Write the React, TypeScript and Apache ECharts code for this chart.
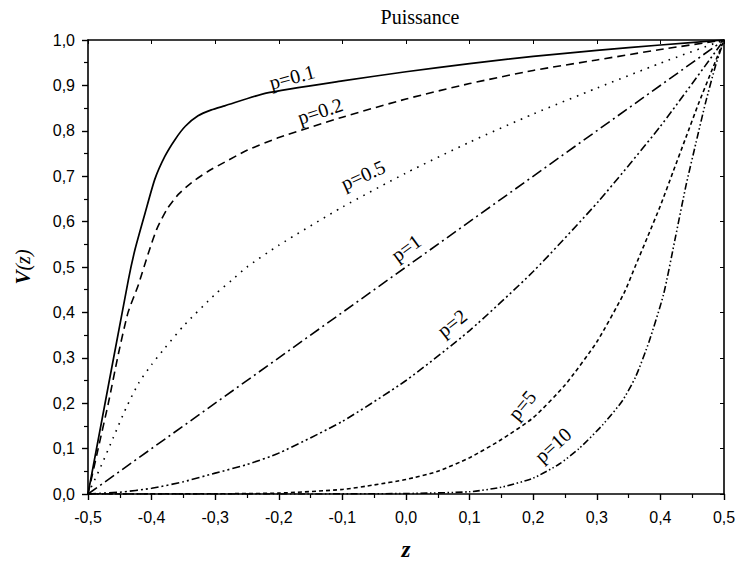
import React, { useEffect, useRef } from "react";
import * as echarts from "echarts";

type Pt = [number, number];

const seriesNames = ["p=0.1", "p=0.2", "p=0.5", "p=1", "p=2", "p=5", "p=10"];

const p01: Pt[] = [
  [-0.5, 0], [-0.4366, 0.471], [-0.426, 0.539], [-0.41, 0.62], [-0.395, 0.693],
  [-0.379, 0.744], [-0.363, 0.781], [-0.347, 0.81], [-0.327, 0.833], [-0.306, 0.846],
  [-0.285, 0.855], [-0.22, 0.883], [-0.1, 0.91], [0, 0.93], [0.1, 0.948],
  [0.2, 0.964], [0.3, 0.977], [0.4, 0.989], [0.5, 1],
];
const p02: Pt[] = [
  [-0.5, 0], [-0.484, 0.1], [-0.468, 0.2], [-0.452, 0.31], [-0.437, 0.4],
  [-0.421, 0.46], [-0.405, 0.531], [-0.392, 0.583], [-0.376, 0.627], [-0.358, 0.66],
  [-0.337, 0.686], [-0.311, 0.711], [-0.285, 0.731], [-0.25, 0.757], [-0.2, 0.785],
  [-0.1, 0.83], [0, 0.87], [0.1, 0.904], [0.2, 0.933], [0.3, 0.956], [0.4, 0.979], [0.5, 1],
];
const p05: Pt[] = [
  [-0.5, 0], [-0.48, 0.06], [-0.46, 0.125], [-0.44, 0.19], [-0.42, 0.245],
  [-0.4, 0.285], [-0.38, 0.32], [-0.35, 0.37], [-0.3, 0.44], [-0.274, 0.471],
  [-0.25, 0.5], [-0.2, 0.548], [-0.1, 0.632], [0, 0.707], [0.1, 0.775],
  [0.2, 0.837], [0.3, 0.894], [0.4, 0.949], [0.5, 1],
];
const p1: Pt[] = [[-0.5, 0], [0, 0.5], [0.5, 1]];
const p2: Pt[] = [
  [-0.5, 0], [-0.45, 0.004], [-0.4, 0.0125], [-0.35, 0.027], [-0.3, 0.046],
  [-0.25, 0.065], [-0.2, 0.09], [-0.1, 0.16], [0, 0.25], [0.1, 0.36],
  [0.2, 0.49], [0.3035, 0.646], [0.4, 0.81], [0.5, 1],
];
const p5: Pt[] = [
  [-0.5, 0], [-0.3, 0.0005], [-0.2, 0.002], [-0.1, 0.01], [-0.05, 0.02],
  [0, 0.032], [0.05, 0.05], [0.1, 0.08], [0.15, 0.12], [0.2, 0.168],
  [0.25, 0.24], [0.3, 0.335], [0.343, 0.443], [0.36, 0.5], [0.38, 0.567],
  [0.4, 0.635], [0.42, 0.71], [0.44, 0.785], [0.46, 0.86], [0.48, 0.93], [0.5, 1],
];
const p10: Pt[] = [
  [-0.5, 0], [-0.2, 0], [0, 0.001], [0.1, 0.005], [0.15, 0.015], [0.2, 0.035],
  [0.241, 0.066], [0.272, 0.1], [0.309, 0.152], [0.34, 0.205], [0.361, 0.258],
  [0.382, 0.335], [0.405, 0.44], [0.424, 0.568], [0.44, 0.678], [0.456, 0.774],
  [0.471, 0.862], [0.487, 0.945], [0.5, 1],
];

const allData = [p01, p02, p05, p1, p2, p5, p10];
const dashes: (string | number[])[] = [
  "solid",
  [8, 5],
  [1.6, 6],
  [11, 4, 2, 4],
  [8, 3, 2, 3, 2, 3],
  [4, 3],
  [7, 2.5, 1.5, 2.5, 1.5, 2.5],
];

const xTitle = "z";
const chartTitle = "Puissance";

// label positions (pixel centres) and rotation in degrees
const labelPos: [number, number, number][] = [
  [292, 77, 15],
  [320, 111, 18],
  [363, 175, 24],
  [406, 248, 36],
  [452, 323, 38],
  [522, 405, 50],
  [553, 445, 42],
];

const fmt = (v: number) => (Math.abs(v) < 1e-9 ? 0 : v).toFixed(1).replace(".", ",");

export default function App() {
  const ref = useRef<HTMLDivElement>(null);
  useEffect(() => {
    document.body.style.margin = "0";
    const chart = echarts.init(ref.current!, null, { renderer: "svg" });
    const serif = "'Liberation Serif', 'DejaVu Serif', serif";
    const sans = "'Liberation Sans', Arial, sans-serif";
    const axisLine = { show: true, onZero: false, lineStyle: { color: "#000", width: 1.6 } };
    chart.setOption({
      animation: false,
      backgroundColor: "#fff",
      grid: { left: 88, right: 13, top: 40, bottom: 71, containLabel: false, outerBoundsMode: "none" },
      xAxis: [
        {
          type: "value",
          min: -0.5,
          max: 0.5,
          interval: 0.1,
          position: "bottom",
          name: xTitle,
          nameLocation: "middle",
          nameGap: 44,
          nameTextStyle: { fontFamily: serif, fontSize: 23, fontWeight: "bold", fontStyle: "italic", color: "#000" },
          axisLine,
          axisTick: { show: true, inside: false, length: 6, lineStyle: { color: "#000", width: 1.4 } },
          minorTick: { show: true, splitNumber: 2, length: 4, lineStyle: { color: "#000", width: 1.2 } },
          splitLine: { show: false },
          axisLabel: { formatter: fmt, fontFamily: sans, fontSize: 16, color: "#000", margin: 15 },
        },
        {
          type: "value",
          min: -0.5,
          max: 0.5,
          interval: 0.1,
          position: "top",
          axisLine,
          axisTick: { show: true, inside: true, length: 4, lineStyle: { color: "#000", width: 1 } },
          splitLine: { show: false },
          axisLabel: { show: false },
        },
      ],
      yAxis: [
        {
          type: "value",
          min: 0,
          max: 1,
          interval: 0.1,
          position: "left",
          name: "{v|V}{z|(z)}",
          nameLocation: "middle",
          nameGap: 55,
          nameRotate: 90,
          nameTextStyle: {
            color: "#000",
            rich: {
              v: { fontFamily: serif, fontSize: 21, fontWeight: "bold", fontStyle: "italic", color: "#000" },
              z: { fontFamily: serif, fontSize: 20, fontStyle: "italic", color: "#000" },
            },
          },
          axisLine,
          axisTick: { show: true, inside: false, length: 6, lineStyle: { color: "#000", width: 1.4 } },
          minorTick: { show: true, splitNumber: 2, length: 4, lineStyle: { color: "#000", width: 1.2 } },
          splitLine: { show: false },
          axisLabel: { formatter: fmt, fontFamily: sans, fontSize: 16, color: "#000", margin: 13 },
        },
        {
          type: "value",
          min: 0,
          max: 1,
          interval: 0.1,
          position: "right",
          axisLine,
          axisTick: { show: true, inside: true, length: 4, lineStyle: { color: "#000", width: 1 } },
          splitLine: { show: false },
          axisLabel: { show: false },
        },
      ],
      series: allData.map((d, i) => ({
        name: seriesNames[i],
        type: "line",
        data: d,
        xAxisIndex: 0,
        yAxisIndex: 0,
        showSymbol: false,
        symbol: "none",
        smooth: i === 3 ? false : 0.2,
        lineStyle: { color: "#000", width: i === 0 ? 1.7 : 1.6, type: dashes[i] },
        z: 2,
      })),
      graphic: [
        {
          type: "text",
          x: 420,
          y: 17,
          style: {
            text: chartTitle,
            fontFamily: serif,
            fontSize: 20,
            fill: "#000",
            align: "center",
            verticalAlign: "middle",
          },
        },
        ...labelPos.map((p, i) => ({
          type: "text",
          x: p[0],
          y: p[1],
          rotation: (p[2] * Math.PI) / 180,
          style: {
            text: seriesNames[i],
            fontFamily: serif,
            fontSize: 20,
            fill: "#000",
            align: "center",
            verticalAlign: "middle",
          },
        })),
      ],
    });
    return () => chart.dispose();
  }, []);
  return <div ref={ref} style={{ width: 737, height: 565 }} />;
}
